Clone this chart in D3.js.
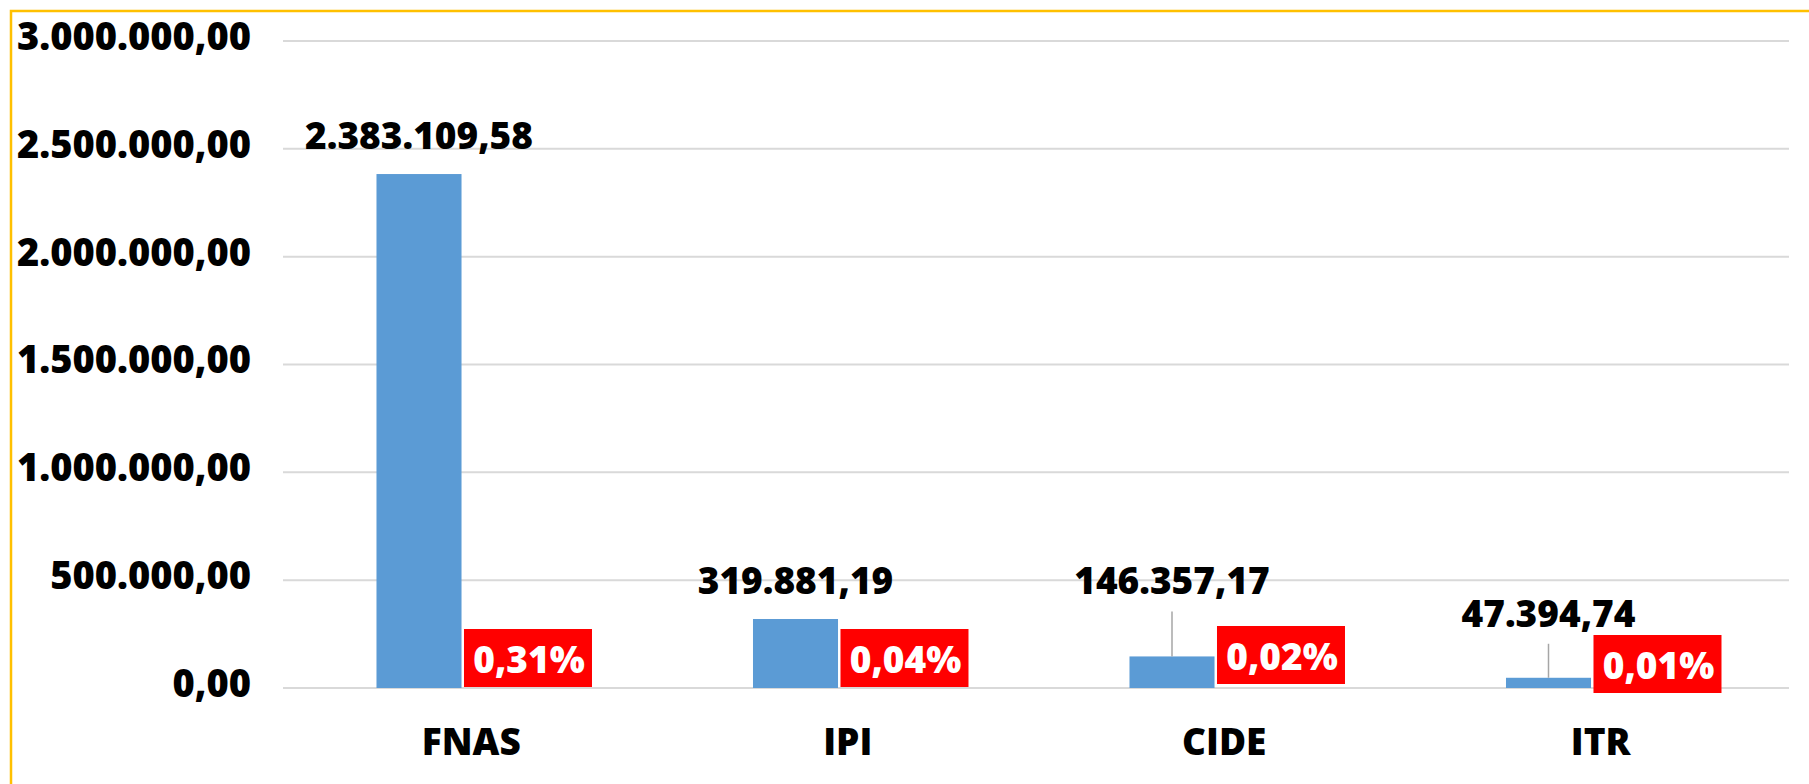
<!DOCTYPE html>
<html>
<head>
<meta charset="utf-8">
<script src="https://cdn.jsdelivr.net/npm/d3@7"></script>
<style>
  body { margin: 0; background: #fff; }
  svg text { font-family: "Open Sans", sans-serif; font-weight: 800; }
</style>
</head>
<body>
<div id="chart"></div>
<script>
"use strict"

// Chart data
const categories = ["FNAS", "IPI", "CIDE", "ITR"];
const values = [2383109.58, 319881.19, 146357.17, 47394.74];
const shares = [0.31, 0.04, 0.02, 0.01];   // percent
const yTicks = [0, 500000, 1000000, 1500000, 2000000, 2500000, 3000000];

// manual label nudges (as in the original chart)
const valueLabelDy = [0, 0, -37, -26];
const shareLabelDy = [0, 0, -3, 6];

const figWidth = 1809;
const figHeight = 784;
const plot = {left: 283, right: 1789, top: 41, bottom: 688};

const ptBR = d3.formatLocale({decimal: ",", thousands: ".", grouping: [3], currency: ["R$", ""]});
const fmtNum = ptBR.format(",.2f");
const fmtPct = v => ptBR.format(".2f")(v) + "%";

const svg = d3.select("#chart").append("svg")
    .attr("width", figWidth)
    .attr("height", figHeight);

// yellow frame (only top and left edges show)
svg.append("rect")
    .attr("x", 11).attr("y", 11)
    .attr("width", figWidth + 20).attr("height", figHeight + 20)
    .attr("fill", "none")
    .attr("stroke", "#FFC000")
    .attr("stroke-width", 2.5);

// Scales
const yScale = d3.scaleLinear()
    .domain([0, 3000000])
    .range([plot.bottom, plot.top]);

const xScale = d3.scaleBand()
    .domain(categories)
    .range([plot.left, plot.right])
    .padding(0);

const bw = xScale.bandwidth();
const xSub = d3.scaleBand()
    .domain(["value", "share"])
    .range([bw * 0.2483, bw * 0.7530])
    .paddingInner(0.19);

// Gridlines
svg.append("g")
    .attr("class", "grid")
    .selectAll("line")
    .data(yTicks)
    .enter().append("line")
        .attr("x1", plot.left)
        .attr("x2", plot.right)
        .attr("y1", d => yScale(d))
        .attr("y2", d => yScale(d))
        .attr("stroke", "#d9d9d9")
        .attr("stroke-width", 2);

// Y axis labels
const yAxis = d3.axisLeft(yScale)
    .tickValues(yTicks)
    .tickFormat(fmtNum)
    .tickSize(0)
    .tickPadding(0);

const yAxisG = svg.append("g")
    .attr("transform", "translate(251,0)")
    .call(yAxis);
yAxisG.select(".domain").remove();
yAxisG.selectAll("text")
    .attr("font-family", null)
    .attr("font-size", 38)
    .attr("fill", "#000")
    .attr("dy", "0.22em");

// X axis labels
const xAxis = d3.axisBottom(xScale).tickSize(0).tickPadding(0);
const xAxisG = svg.append("g")
    .attr("transform", `translate(0, 755)`)
    .call(xAxis);
xAxisG.select(".domain").remove();
xAxisG.selectAll("text")
    .attr("font-family", null)
    .attr("font-size", 37)
    .attr("fill", "#000")
    .attr("dy", 0);

const rows = categories.map((c, i) => ({cat: c, value: values[i], share: shares[i], i: i}));

// Value bars
svg.append("g").selectAll("rect")
    .data(rows)
    .enter().append("rect")
        .attr("x", d => xScale(d.cat) + xSub("value"))
        .attr("y", d => yScale(d.value))
        .attr("width", xSub.bandwidth())
        .attr("height", d => yScale(0) - yScale(d.value))
        .attr("fill", "#5B9BD5");

// Share bars (percent on the same axis, so practically flat)
svg.append("g").selectAll("rect")
    .data(rows)
    .enter().append("rect")
        .attr("x", d => xScale(d.cat) + xSub("share"))
        .attr("y", d => yScale(d.share / 100))
        .attr("width", xSub.bandwidth())
        .attr("height", d => yScale(0) - yScale(d.share / 100))
        .attr("fill", "#FF0000");

// Leader lines for moved labels
svg.append("g").selectAll("line")
    .data(rows.filter(d => valueLabelDy[d.i] !== 0))
    .enter().append("line")
        .attr("x1", d => xScale(d.cat) + xSub("value") + xSub.bandwidth() / 2)
        .attr("x2", d => xScale(d.cat) + xSub("value") + xSub.bandwidth() / 2)
        .attr("y1", d => yScale(d.value) - 25 + valueLabelDy[d.i] + 17)
        .attr("y2", d => yScale(d.value))
        .attr("stroke", "#a6a6a6")
        .attr("stroke-width", 1.5);

// Value labels
svg.append("g").selectAll("text")
    .data(rows)
    .enter().append("text")
        .attr("x", d => xScale(d.cat) + xSub("value") + xSub.bandwidth() / 2)
        .attr("y", d => yScale(d.value) - 25 + valueLabelDy[d.i])
        .attr("text-anchor", "middle")
        .attr("font-size", 37)
        .attr("fill", "#000")
        .text(d => fmtNum(d.value));

// Share labels in red boxes
const shareLabels = svg.append("g").selectAll("g")
    .data(rows)
    .enter().append("g")
        .attr("transform", d => {
            const cx = xScale(d.cat) + xSub("share") + xSub.bandwidth() / 2 + 1;
            const top = yScale(d.share / 100) - 59 + shareLabelDy[d.i];
            return `translate(${cx}, ${top})`;
        });

shareLabels.append("rect")
    .attr("x", -61)
    .attr("y", 0)
    .attr("width", 128)
    .attr("height", 58)
    .attr("fill", "#FF0000");

shareLabels.append("text")
    .attr("x", 4)
    .attr("y", 44)
    .attr("text-anchor", "middle")
    .attr("font-size", 37)
    .attr("fill", "#fff")
    .text(d => fmtPct(d.share));
</script>
</body>
</html>
